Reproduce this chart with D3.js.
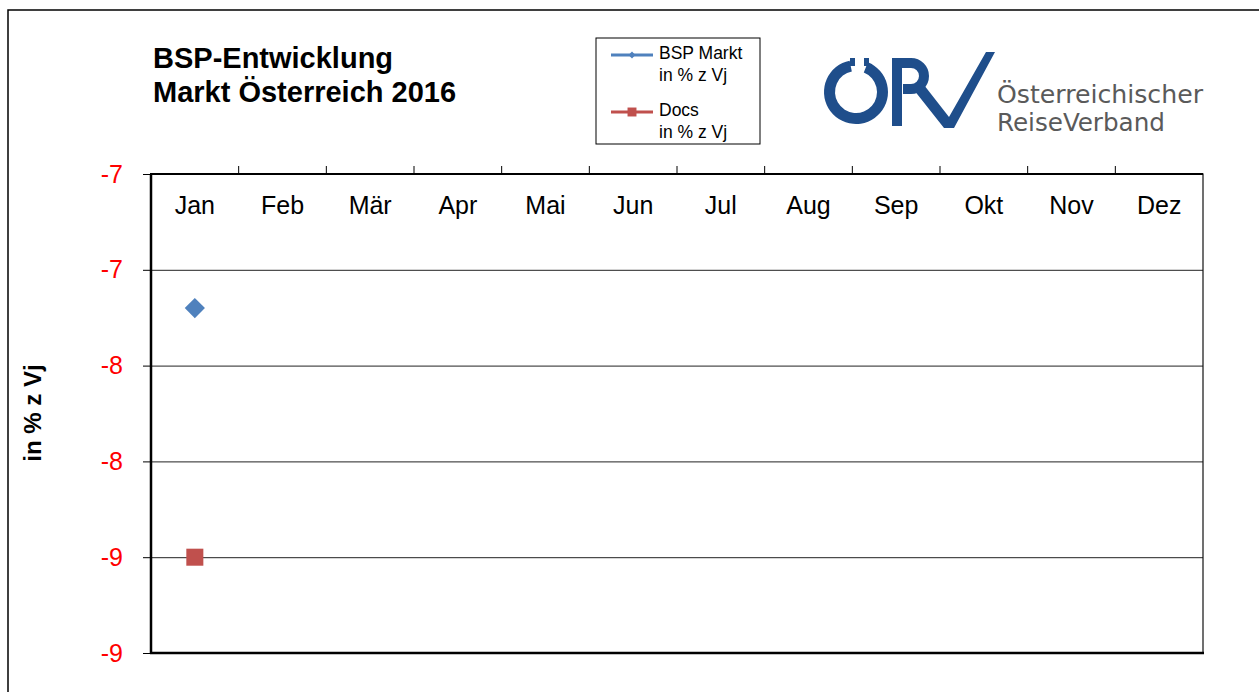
<!DOCTYPE html>
<html>
<head>
<meta charset="utf-8">
<script src="https://cdn.jsdelivr.net/npm/d3@7/dist/d3.min.js"></script>
<style>
  body { margin: 0; background: #fff; }
  svg { display: block; font-family: "Liberation Sans", Arial, sans-serif; }
</style>
</head>
<body>
<svg id="chart" width="1259" height="692"></svg>
<script>
// chart data
const months = ['Jan', 'Feb', 'Mär', 'Apr', 'Mai', 'Jun', 'Jul', 'Aug', 'Sep', 'Okt', 'Nov', 'Dez'];
const bspValues = [-7.2];
const docsValues = [-8.5];
const yTicks = [-6.5, -7, -7.5, -8, -8.5, -9];
const seriesNames = [['BSP Markt', 'in % z Vj'], ['Docs', 'in % z Vj']];

let svg = d3.select('#chart');

// outer frame
svg.append('path')
    .attr('d', 'M8,692 V10 H1259')
    .attr('fill', 'none')
    .attr('stroke', '#000')
    .attr('stroke-width', 1.5);

let plotL = 151, plotR = 1203, plotT = 174, plotB = 653;

let x = d3.scaleBand().domain(months).range([plotL, plotR]);
let y = d3.scaleLinear().domain([-9, -6.5]).range([plotB, plotT]);

// gridlines
let grid = d3.axisLeft(y).tickValues(yTicks).tickSize(-(plotR - plotL)).tickFormat('');
svg.append('g')
    .attr('transform', `translate(${plotL},0)`)
    .call(grid)
    .call(g => g.select('.domain').remove())
    .call(g => g.selectAll('line').attr('stroke', '#222').attr('stroke-width', 1));

// plot border
svg.append('rect')
    .attr('x', plotL).attr('y', plotT)
    .attr('width', plotR - plotL).attr('height', plotB - plotT)
    .attr('fill', 'none').attr('stroke', '#111').attr('stroke-width', 1.2);
svg.append('line')
    .attr('x1', plotL).attr('x2', plotL).attr('y1', plotT).attr('y2', plotB)
    .attr('stroke', '#000').attr('stroke-width', 2.5);
svg.append('line')
    .attr('x1', plotL - 1).attr('x2', plotR).attr('y1', plotT).attr('y2', plotT)
    .attr('stroke', '#000').attr('stroke-width', 2);
svg.append('line')
    .attr('x1', plotL - 1).attr('x2', plotR + 1).attr('y1', plotB).attr('y2', plotB)
    .attr('stroke', '#000').attr('stroke-width', 2.5);

// y axis, labels rounded like the original
let yAxis = d3.axisLeft(y)
    .tickValues(yTicks)
    .tickSize(8)
    .tickPadding(20)
    .tickFormat(d => String(-Math.round(-d)));
svg.append('g')
    .attr('transform', `translate(${plotL},0)`)
    .call(yAxis)
    .call(g => g.select('.domain').remove())
    .call(g => g.selectAll('line').attr('stroke', '#000'))
    .call(g => g.selectAll('text')
        .attr('fill', '#ff0000')
        .style('font-size', '25px')
        .style('font-family', '"Liberation Sans", Arial, sans-serif'));

// month axis at the top, labels inside the plot
let xAxis = d3.axisBottom(x).tickSize(0).tickPadding(22);
svg.append('g')
    .attr('transform', `translate(0,${plotT})`)
    .call(xAxis)
    .call(g => g.select('.domain').remove())
    .call(g => g.selectAll('text')
        .attr('fill', '#000')
        .style('font-size', '25px')
        .style('font-family', '"Liberation Sans", Arial, sans-serif'));

// category boundary ticks pointing up
svg.append('g').selectAll('line')
    .data(months.slice(1))
    .enter()
    .append('line')
    .attr('x1', d => x(d)).attr('x2', d => x(d))
    .attr('y1', plotT).attr('y2', plotT - 8)
    .attr('stroke', '#000');

// series markers
let diamond = d3.symbol().type(d3.symbolDiamond2).size(260);
let square = d3.symbol().type(d3.symbolSquare).size(290);

svg.append('g').selectAll('path')
    .data(bspValues)
    .enter()
    .append('path')
    .attr('d', diamond)
    .attr('transform', (d, i) => `translate(${x(months[i]) + x.bandwidth() / 2},${y(d)})`)
    .attr('fill', '#4f81bd');

svg.append('g').selectAll('path')
    .data(docsValues)
    .enter()
    .append('path')
    .attr('d', square)
    .attr('transform', (d, i) => `translate(${x(months[i]) + x.bandwidth() / 2},${y(d)})`)
    .attr('fill', '#c0504d');

// y axis title
svg.append('text')
    .attr('transform', 'translate(41,413) rotate(-90)')
    .attr('text-anchor', 'middle')
    .style('font-size', '24px')
    .style('font-weight', 'bold')
    .text('in % z Vj');

// title
let title = svg.append('text')
    .style('font-size', '29px')
    .style('font-weight', 'bold');
title.append('tspan').attr('x', 153).attr('y', 68).text('BSP-Entwicklung');
title.append('tspan').attr('x', 153).attr('y', 102).text('Markt Österreich 2016');

// legend
let legend = svg.append('g');
legend.append('rect')
    .attr('x', 596).attr('y', 38).attr('width', 164).attr('height', 106)
    .attr('fill', '#fff').attr('stroke', '#000');

let legendColors = ['#4f81bd', '#c0504d'];
let legendY = [55, 112];
seriesNames.forEach(function(name, i){
    legend.append('line')
        .attr('x1', 611).attr('x2', 653)
        .attr('y1', legendY[i]).attr('y2', legendY[i])
        .attr('stroke', legendColors[i]).attr('stroke-width', 3);
    legend.append('path')
        .attr('d', i === 0 ? d3.symbol().type(d3.symbolDiamond2).size(30)() : d3.symbol().type(d3.symbolSquare).size(80)())
        .attr('transform', `translate(632,${legendY[i]})`)
        .attr('fill', legendColors[i]);
    let t = legend.append('text').style('font-size', '17.5px');
    t.append('tspan').attr('x', 659).attr('y', legendY[i] + 4).text(name[0]);
    t.append('tspan').attr('x', 659).attr('y', legendY[i] + 26).text(name[1]);
});

// logo
let logo = svg.append('g');
let blue = '#1f4e8b';
let ring = d3.arc()
    .innerRadius(21).outerRadius(32)
    .startAngle(0.38).endAngle(2 * Math.PI - 0.2);
logo.append('path')
    .attr('d', ring())
    .attr('transform', 'translate(856,92)')
    .attr('fill', blue);
logo.append('rect').attr('x', 850).attr('y', 58).attr('width', 5).attr('height', 8).attr('fill', blue);
logo.append('rect').attr('x', 864).attr('y', 58).attr('width', 5).attr('height', 8).attr('fill', blue);
logo.append('rect').attr('x', 892).attr('y', 58).attr('width', 10).attr('height', 68).attr('fill', blue);
logo.append('path')
    .attr('d', 'M897,63 H911 A13,13 0 0 1 911,89 H903')
    .attr('fill', 'none').attr('stroke', blue).attr('stroke-width', 10);
logo.append('path')
    .attr('d', 'M910,85 L924,85 L949,117 L986,52 L995,52 L954,128 L944,128 Z')
    .attr('fill', blue);

let logoText = svg.append('text')
    .attr('fill', '#5a5a5a')
    .style('font-family', '"DejaVu Sans Condensed", "Liberation Sans Narrow", sans-serif')
    .style('font-size', '25px');
logoText.append('tspan').attr('x', 997).attr('y', 103)
    .attr('textLength', 206).attr('lengthAdjust', 'spacingAndGlyphs').text('Österreichischer');
logoText.append('tspan').attr('x', 997).attr('y', 131)
    .attr('textLength', 168).attr('lengthAdjust', 'spacingAndGlyphs').text('ReiseVerband');
</script>
</body>
</html>
